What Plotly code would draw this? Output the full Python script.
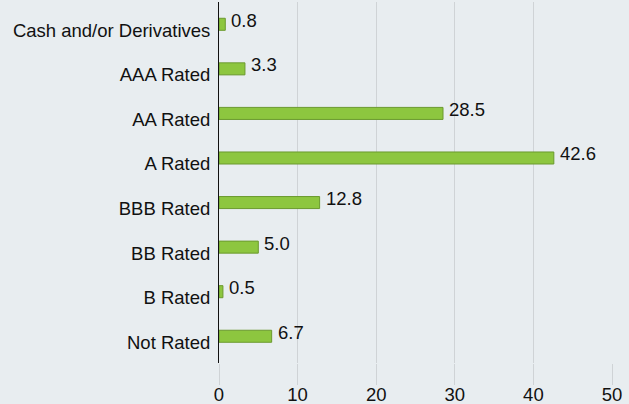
import plotly.graph_objects as go

categories = ["Cash and/or Derivatives", "AAA Rated", "AA Rated", "A Rated",
              "BBB Rated", "BB Rated", "B Rated", "Not Rated"]
values = [0.8, 3.3, 28.5, 42.6, 12.8, 5.0, 0.5, 6.7]
value_labels = ["0.8", "3.3", "28.5", "42.6", "12.8", "5.0", "0.5", "6.7"]
x_ticks = [0, 10, 20, 30, 40, 50]

BG = "#e8edf0"
FONT = "Liberation Sans, Arial, sans-serif"
FS = 18.5

fig = go.Figure()
fig.add_trace(go.Bar(
    x=values, y=categories, orientation="h",
    marker=dict(color="#8dc63f", line=dict(color="#6b9a2e", width=1)),
    width=0.27, hoverinfo="skip",
))

for v, c, t in zip(values, categories, value_labels):
    fig.add_annotation(x=v, y=c, text=t, showarrow=False, xanchor="left",
                       xshift=4, yshift=4, font=dict(size=FS, color="#111111", family=FONT))

fig.update_layout(
    width=629, height=404,
    margin=dict(l=219, r=17, t=2, b=41),
    paper_bgcolor=BG, plot_bgcolor=BG,
    font=dict(family=FONT, size=FS, color="#111111"),
    showlegend=False,
    xaxis=dict(range=[0, 50], tickvals=x_ticks, showgrid=True, gridcolor="#cfd3d6",
               gridwidth=1, zeroline=False, ticks="outside", ticklen=21,
               tickcolor="#cfd3d6", tickwidth=1, showline=False, automargin=False,
               ticklabelstandoff=-6,
               tickfont=dict(size=FS, color="#111111")),
    yaxis=dict(range=[7.6, -0.5], showline=True, linecolor="#111111", linewidth=1,
               ticks="", showgrid=False, ticklabelstandoff=4, ticklabelshift=-6,
               automargin=False,
               tickfont=dict(size=FS, color="#111111")),
)

fig.write_html("out.html", config={"displayModeBar": False},
               post_script="document.body.style.margin='0';document.body.style.background='%s';" % BG)
